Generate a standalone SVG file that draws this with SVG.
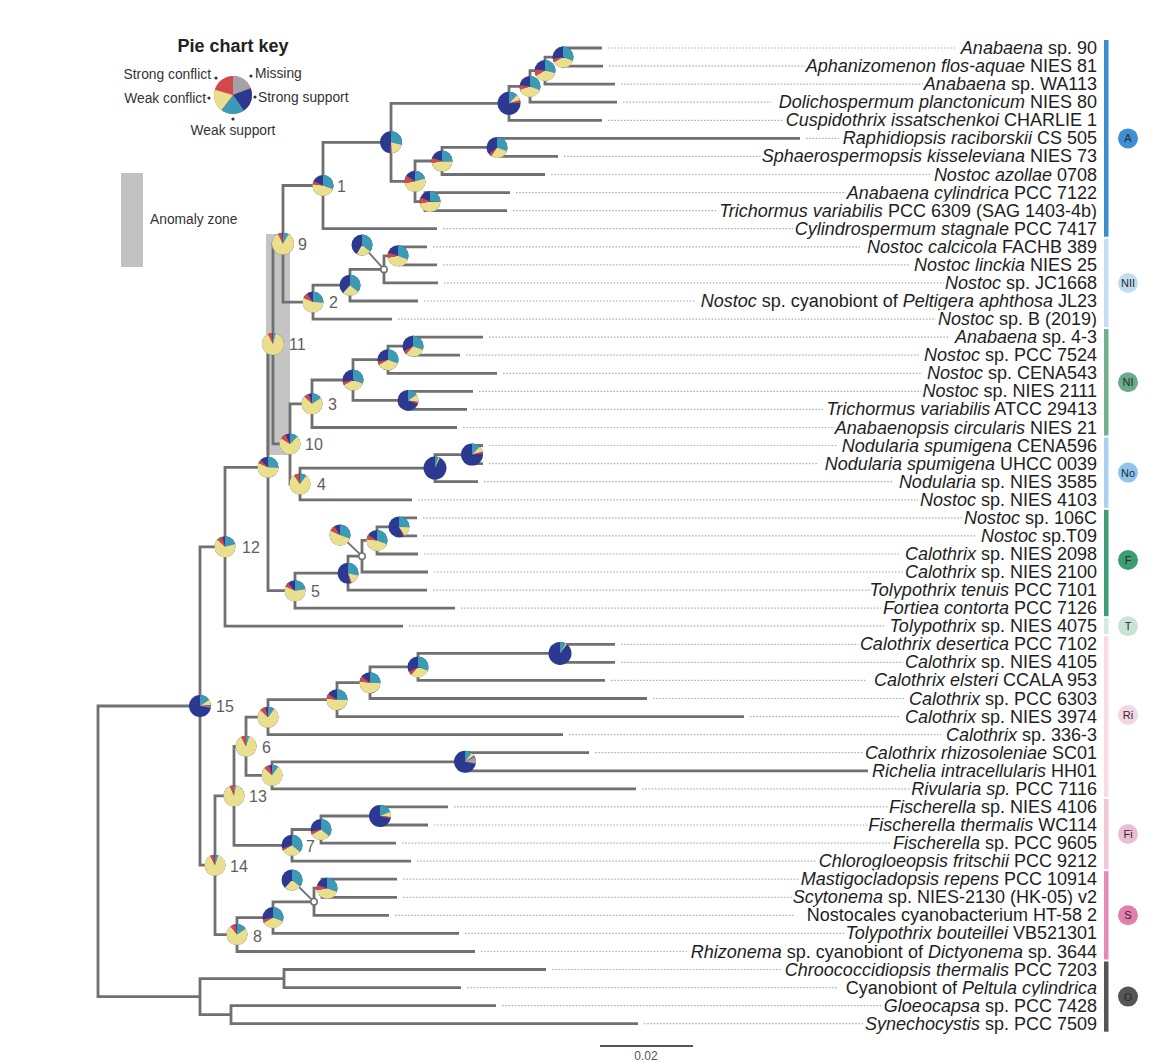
<svg xmlns="http://www.w3.org/2000/svg" width="1174" height="1062" viewBox="0 0 1174 1062">
<style>
text{font-family:"Liberation Sans",Arial,sans-serif}
.br{fill:none;stroke:#707070;stroke-width:2.8;stroke-linejoin:miter}
.ld{fill:none;stroke:#707070;stroke-width:1.8}
.dt{fill:none;stroke:#b0b0b0;stroke-width:1.2;stroke-dasharray:1.6 1.6}
.lf{font-size:18px;fill:#1e1e1e;text-anchor:end;stroke:#fff;stroke-width:5;stroke-linejoin:round;paint-order:stroke}
.i{font-style:italic}
.nl{font-size:16px;fill:#5e5e5e}
.p circle{fill:none;stroke-width:31.831}
.p .b{fill:#2c3990;stroke:none}
.t{stroke:#3b9ab5}.y{stroke:#eadf8d}.r{stroke:#d6474b}.g{stroke:#a3a3a5}.s{stroke:#2c3990}
.kl{font-size:13.8px;fill:#333}
.sc{fill:#fff;stroke:#707070;stroke-width:1.5}
.cl{font-size:11px;fill:#2a2a2a;text-anchor:middle}
</style>

<!-- key -->
<g id="key">
<text x="233" y="52" font-size="18" font-weight="bold" text-anchor="middle" fill="#222">Pie chart key</text>
<g class="p" transform="translate(233 95) scale(.597) rotate(-90)"><circle class="b" r="31.83" style="fill:#d6474b"/><circle class="g" r="15.915" stroke-dasharray="19 100"/><circle class="s" r="15.915" stroke-dasharray="21 100" stroke-dashoffset="-19"/><circle class="t" r="15.915" stroke-dasharray="20 100" stroke-dashoffset="-40"/><circle class="y" r="15.915" stroke-dasharray="19 100" stroke-dashoffset="-60"/></g>
<g fill="#333"><circle cx="216" cy="78" r="1.6"/><circle cx="251" cy="76" r="1.6"/><circle cx="209" cy="98" r="1.6"/><circle cx="255" cy="97" r="1.6"/><circle cx="233" cy="119" r="1.6"/></g>
<text class="kl" x="211" y="79" text-anchor="end">Strong conflict</text>
<text class="kl" x="255" y="78">Missing</text>
<text class="kl" x="206" y="102.5" text-anchor="end">Weak conflict</text>
<text class="kl" x="258" y="101.5">Strong support</text>
<text class="kl" x="233" y="135" text-anchor="middle">Weak support</text>
<rect x="121" y="173" width="22" height="94" fill="#c2c2c2"/>
<text class="kl" x="150" y="224" font-size="13.5">Anomaly zone</text>
</g>

<rect id="anomaly" x="266" y="234" width="24" height="221" fill="#c4c4c4"/>

<g id="connectors">
<path class="br" d="M602 48H563V66.1H603M563 57.1H545V84.1H615M545 70.6H530V102.2H617M530 86.4H509V120.3H602M800 138.4H497V156.4H558M497 147.4H442V174.5H545M510 192.6H425V210.6H507M442 161H415V201.6H425M509 103.3H391V181.3H415M391 142.3H323V228.7H437M427 246.8H400V264.8H437M400 255.8H384V282.9H438M384 269.4H350V301H418M350 285.2H313V319.1H392M323 185.5H283V302.1H313M483 337.1H413V355.2H460M413 346.2H388V373.3H497M473 391.3H408V409.4H467M388 359.7H353V400.4H408M353 380H312V427.5H457M483 445.5H472V463.6H483M472 454.6H435V481.7H478M435 468.1H300V499.8H412M312 403.8H290V484H300M283 243.8H273V443.9H290M417 517.8H402V535.9H417M402 526.9H377V554H418M377 540.4H362V572H428M362 556.2H348V590.1H427M348 573.2H295V608.2H455M273 343.9H268V590.7H295M268 467.3H225V626.2H403M615 644.3H560V662.4H615M560 653.4H418V680.4H605M418 666.9H370V698.5H647M370 682.7H337V716.6H744M337 699.7H268V734.7H563M589 752.7H465V770.8H868M465 761.8H272V788.9H636M268 717.2H246V775.3H272M448 806.9H380V825H428M380 816H321V843.1H396M321 829.5H292V861.1H411M246 746.3H234V845.3H292M397 879.2H322V897.3H397M322 888.2H314V915.3H389M314 901.8H273V933.4H459M273 917.6H237V951.5H475M234 795.8H215V934.6H237M225 546.8H200V865.2H215M546 969.5H284V987.6H461M496 1005.7H231V1023.7H638M284 978.6H200V1014.7H231M200 706H98V996.6H200"/>
<path class="ld" d="M362 245L384 269.4M340 535L362 556.2M292 880L314 901.8"/>
<path class="dt" d="M608 48H955M609 66.1H805M621 84.1H923M623 102.2H771M608 120.3H786M806 138.4H839M564 156.4H763M551 174.5H930M516 192.6H846M513 210.6H717M443 228.7H796M433 246.8H860M443 264.8H909M444 282.9H945M424 301H696M398 319.1H936M489 337.1H950M466 355.2H920M503 373.3H922M479 391.3H925M473 409.4H823M463 427.5H835M489 445.5H837M489 463.6H817M484 481.7H893M418 499.8H918M423 517.8H962M423 535.9H976M424 554H900M434 572H904M433 590.1H872M461 608.2H881M409 626.2H885M621 644.3H861M621 662.4H904M611 680.4H867M653 698.5H904M750 716.6H900M569 734.7H941M595 752.7H865M642 788.9H915M454 806.9H888M434 825H869M402 843.1H890M417 861.1H817M403 879.2H801M403 897.3H794M395 915.3H794M465 933.4H846M481 951.5H687M552 969.5H782M467 987.6H837M502 1005.7H883M644 1023.7H863"/>
<circle class="sc" cx="384" cy="269.4" r="3.2"/>
<circle class="sc" cx="362" cy="556.2" r="3.2"/>
<circle class="sc" cx="314" cy="901.8" r="3.2"/>
</g>

<g id="pies">
<g id="nA12" class="p" transform="translate(563 57.1) scale(.33) rotate(-90)"><circle class="b" r="31.83"/><circle class="t" r="15.915" stroke-dasharray="30 100"/><circle class="y" r="15.915" stroke-dasharray="35 100" stroke-dashoffset="-30"/><circle class="r" r="15.915" stroke-dasharray="5 100" stroke-dashoffset="-65"/></g>
<g id="nA13" class="p" transform="translate(545 70.6) scale(.33) rotate(-90)"><circle class="b" r="31.83"/><circle class="t" r="15.915" stroke-dasharray="28 100"/><circle class="y" r="15.915" stroke-dasharray="37 100" stroke-dashoffset="-28"/><circle class="r" r="15.915" stroke-dasharray="10 100" stroke-dashoffset="-65"/></g>
<g id="nA14" class="p" transform="translate(530 86.4) scale(.33) rotate(-90)"><circle class="b" r="31.83"/><circle class="t" r="15.915" stroke-dasharray="30 100"/><circle class="y" r="15.915" stroke-dasharray="38 100" stroke-dashoffset="-30"/><circle class="r" r="15.915" stroke-dasharray="7 100" stroke-dashoffset="-68"/></g>
<g id="nA15" class="p" transform="translate(509 103.3) scale(.361) rotate(-90)"><circle class="b" r="31.83"/><circle class="t" r="15.915" stroke-dasharray="12 100"/><circle class="y" r="15.915" stroke-dasharray="8 100" stroke-dashoffset="-12"/><circle class="r" r="15.915" stroke-dasharray="4 100" stroke-dashoffset="-20"/></g>
<g id="nA67" class="p" transform="translate(497 147.4) scale(.33) rotate(-90)"><circle class="b" r="31.83"/><circle class="t" r="15.915" stroke-dasharray="30 100"/><circle class="y" r="15.915" stroke-dasharray="28 100" stroke-dashoffset="-30"/><circle class="r" r="15.915" stroke-dasharray="4 100" stroke-dashoffset="-58"/></g>
<g id="nA68" class="p" transform="translate(442 161) scale(.33) rotate(-90)"><circle class="b" r="31.83"/><circle class="t" r="15.915" stroke-dasharray="25 100"/><circle class="y" r="15.915" stroke-dasharray="45 100" stroke-dashoffset="-25"/><circle class="r" r="15.915" stroke-dasharray="8 100" stroke-dashoffset="-70"/></g>
<g id="nA610" class="p" transform="translate(415 181.3) scale(.33) rotate(-90)"><circle class="b" r="31.83"/><circle class="t" r="15.915" stroke-dasharray="20 100"/><circle class="y" r="15.915" stroke-dasharray="50 100" stroke-dashoffset="-20"/><circle class="r" r="15.915" stroke-dasharray="12 100" stroke-dashoffset="-70"/></g>
<g id="nA910" class="p" transform="translate(430 201.6) scale(.33) rotate(-90)"><circle class="b" r="31.83"/><circle class="t" r="15.915" stroke-dasharray="25 100"/><circle class="y" r="15.915" stroke-dasharray="45 100" stroke-dashoffset="-25"/><circle class="r" r="15.915" stroke-dasharray="10 100" stroke-dashoffset="-70"/></g>
<g id="nAu" class="p" transform="translate(391 142.3) scale(.346) rotate(-90)"><circle class="b" r="31.83"/><circle class="t" r="15.915" stroke-dasharray="28 100"/><circle class="y" r="15.915" stroke-dasharray="20 100" stroke-dashoffset="-28"/><circle class="r" r="15.915" stroke-dasharray="2 100" stroke-dashoffset="-48"/></g>
<g id="n1" class="p" transform="translate(323 185.5) scale(.33) rotate(-90)"><circle class="b" r="31.83"/><circle class="t" r="15.915" stroke-dasharray="30 100"/><circle class="y" r="15.915" stroke-dasharray="45 100" stroke-dashoffset="-30"/><circle class="r" r="15.915" stroke-dasharray="5 100" stroke-dashoffset="-75"/></g>
<g id="n9" class="p" transform="translate(283 243.8) scale(.346) rotate(-90)"><circle class="b" r="31.83"/><circle class="t" r="15.915" stroke-dasharray="8 100"/><circle class="y" r="15.915" stroke-dasharray="82 100" stroke-dashoffset="-8"/><circle class="r" r="15.915" stroke-dasharray="6 100" stroke-dashoffset="-90"/></g>
<g id="n2" class="p" transform="translate(313 302.1) scale(.33) rotate(-90)"><circle class="b" r="31.83"/><circle class="t" r="15.915" stroke-dasharray="25 100"/><circle class="y" r="15.915" stroke-dasharray="55 100" stroke-dashoffset="-25"/><circle class="r" r="15.915" stroke-dasharray="8 100" stroke-dashoffset="-80"/></g>
<g id="n2a" class="p" transform="translate(350 285.2) scale(.33) rotate(-90)"><circle class="b" r="31.83"/><circle class="t" r="15.915" stroke-dasharray="35 100"/><circle class="y" r="15.915" stroke-dasharray="25 100" stroke-dashoffset="-35"/></g>
<g id="n2b" class="p" transform="translate(362 245) scale(.33) rotate(-90)"><circle class="b" r="31.83"/><circle class="t" r="15.915" stroke-dasharray="35 100"/><circle class="y" r="15.915" stroke-dasharray="22 100" stroke-dashoffset="-35"/></g>
<g id="n2c" class="p" transform="translate(398 255.8) scale(.33) rotate(-90)"><circle class="b" r="31.83"/><circle class="t" r="15.915" stroke-dasharray="30 100"/><circle class="y" r="15.915" stroke-dasharray="40 100" stroke-dashoffset="-30"/><circle class="r" r="15.915" stroke-dasharray="8 100" stroke-dashoffset="-70"/></g>
<g id="n11" class="p" transform="translate(273 343.9) scale(.346) rotate(-90)"><circle class="b" r="31.83"/><circle class="t" r="15.915" stroke-dasharray="4 100"/><circle class="y" r="15.915" stroke-dasharray="86 100" stroke-dashoffset="-4"/><circle class="r" r="15.915" stroke-dasharray="6 100" stroke-dashoffset="-90"/></g>
<g id="n3" class="p" transform="translate(312 403.8) scale(.33) rotate(-90)"><circle class="b" r="31.83"/><circle class="t" r="15.915" stroke-dasharray="15 100"/><circle class="y" r="15.915" stroke-dasharray="70 100" stroke-dashoffset="-15"/><circle class="r" r="15.915" stroke-dasharray="7 100" stroke-dashoffset="-85"/></g>
<g id="n3a" class="p" transform="translate(353 380) scale(.33) rotate(-90)"><circle class="b" r="31.83"/><circle class="t" r="15.915" stroke-dasharray="30 100"/><circle class="y" r="15.915" stroke-dasharray="35 100" stroke-dashoffset="-30"/><circle class="r" r="15.915" stroke-dasharray="5 100" stroke-dashoffset="-65"/></g>
<g id="n3b" class="p" transform="translate(388 359.7) scale(.33) rotate(-90)"><circle class="b" r="31.83"/><circle class="t" r="15.915" stroke-dasharray="30 100"/><circle class="y" r="15.915" stroke-dasharray="35 100" stroke-dashoffset="-30"/><circle class="r" r="15.915" stroke-dasharray="5 100" stroke-dashoffset="-65"/></g>
<g id="n3d" class="p" transform="translate(413 346.2) scale(.33) rotate(-90)"><circle class="b" r="31.83"/><circle class="t" r="15.915" stroke-dasharray="30 100"/><circle class="y" r="15.915" stroke-dasharray="30 100" stroke-dashoffset="-30"/><circle class="r" r="15.915" stroke-dasharray="5 100" stroke-dashoffset="-60"/></g>
<g id="n3c" class="p" transform="translate(408 400.4) scale(.33) rotate(-90)"><circle class="b" r="31.83"/><circle class="t" r="15.915" stroke-dasharray="15 100"/><circle class="y" r="15.915" stroke-dasharray="12 100" stroke-dashoffset="-15"/><circle class="r" r="15.915" stroke-dasharray="3 100" stroke-dashoffset="-27"/></g>
<g id="n10" class="p" transform="translate(290 443.9) scale(.33) rotate(-90)"><circle class="b" r="31.83"/><circle class="t" r="15.915" stroke-dasharray="12 100"/><circle class="y" r="15.915" stroke-dasharray="70 100" stroke-dashoffset="-12"/><circle class="r" r="15.915" stroke-dasharray="8 100" stroke-dashoffset="-82"/></g>
<g id="n4" class="p" transform="translate(300 484) scale(.33) rotate(-90)"><circle class="b" r="31.83"/><circle class="t" r="15.915" stroke-dasharray="10 100"/><circle class="y" r="15.915" stroke-dasharray="78 100" stroke-dashoffset="-10"/><circle class="r" r="15.915" stroke-dasharray="8 100" stroke-dashoffset="-88"/></g>
<g id="n4a" class="p" transform="translate(435 468.1) scale(.361) rotate(-90)"><circle class="b" r="31.83"/><circle class="t" r="15.915" stroke-dasharray="5 100"/><circle class="y" r="15.915" stroke-dasharray="2 100" stroke-dashoffset="-5"/></g>
<g id="n4b" class="p" transform="translate(472 454.6) scale(.346) rotate(-90)"><circle class="b" r="31.83"/><circle class="t" r="15.915" stroke-dasharray="12 100"/><circle class="y" r="15.915" stroke-dasharray="8 100" stroke-dashoffset="-12"/><circle class="r" r="15.915" stroke-dasharray="3 100" stroke-dashoffset="-20"/></g>
<g id="nU" class="p" transform="translate(268 467.3) scale(.33) rotate(-90)"><circle class="b" r="31.83"/><circle class="t" r="15.915" stroke-dasharray="25 100"/><circle class="y" r="15.915" stroke-dasharray="55 100" stroke-dashoffset="-25"/><circle class="r" r="15.915" stroke-dasharray="5 100" stroke-dashoffset="-80"/></g>
<g id="n12" class="p" transform="translate(225 546.8) scale(.33) rotate(-90)"><circle class="b" r="31.83"/><circle class="t" r="15.915" stroke-dasharray="20 100"/><circle class="y" r="15.915" stroke-dasharray="65 100" stroke-dashoffset="-20"/><circle class="r" r="15.915" stroke-dasharray="8 100" stroke-dashoffset="-85"/></g>
<g id="n5" class="p" transform="translate(295 590.7) scale(.33) rotate(-90)"><circle class="b" r="31.83"/><circle class="t" r="15.915" stroke-dasharray="22 100"/><circle class="y" r="15.915" stroke-dasharray="58 100" stroke-dashoffset="-22"/><circle class="r" r="15.915" stroke-dasharray="6 100" stroke-dashoffset="-80"/></g>
<g id="n5a" class="p" transform="translate(348 573.2) scale(.33) rotate(-90)"><circle class="b" r="31.83"/><circle class="t" r="15.915" stroke-dasharray="28 100"/><circle class="y" r="15.915" stroke-dasharray="15 100" stroke-dashoffset="-28"/><circle class="r" r="15.915" stroke-dasharray="2 100" stroke-dashoffset="-43"/></g>
<g id="n5b" class="p" transform="translate(340 535) scale(.33) rotate(-90)"><circle class="b" r="31.83"/><circle class="t" r="15.915" stroke-dasharray="30 100"/><circle class="y" r="15.915" stroke-dasharray="50 100" stroke-dashoffset="-30"/><circle class="r" r="15.915" stroke-dasharray="8 100" stroke-dashoffset="-80"/></g>
<g id="n5c" class="p" transform="translate(377 540.4) scale(.33) rotate(-90)"><circle class="b" r="31.83"/><circle class="t" r="15.915" stroke-dasharray="30 100"/><circle class="y" r="15.915" stroke-dasharray="45 100" stroke-dashoffset="-30"/><circle class="r" r="15.915" stroke-dasharray="7 100" stroke-dashoffset="-75"/></g>
<g id="n5d" class="p" transform="translate(399 526.9) scale(.33) rotate(-90)"><circle class="b" r="31.83"/><circle class="t" r="15.915" stroke-dasharray="25 100"/><circle class="y" r="15.915" stroke-dasharray="15 100" stroke-dashoffset="-25"/><circle class="r" r="15.915" stroke-dasharray="2 100" stroke-dashoffset="-40"/></g>
<g id="n15" class="p" transform="translate(200 706) scale(.346) rotate(-90)"><circle class="b" r="31.83"/><circle class="t" r="15.915" stroke-dasharray="15 100"/><circle class="y" r="15.915" stroke-dasharray="8 100" stroke-dashoffset="-15"/><circle class="r" r="15.915" stroke-dasharray="2 100" stroke-dashoffset="-23"/><circle class="g" r="15.915" stroke-dasharray="2 100" stroke-dashoffset="-25"/></g>
<g id="n6" class="p" transform="translate(246 746.3) scale(.33) rotate(-90)"><circle class="b" r="31.83"/><circle class="t" r="15.915" stroke-dasharray="5 100"/><circle class="y" r="15.915" stroke-dasharray="85 100" stroke-dashoffset="-5"/><circle class="r" r="15.915" stroke-dasharray="7 100" stroke-dashoffset="-90"/></g>
<g id="n6a" class="p" transform="translate(268 717.2) scale(.33) rotate(-90)"><circle class="b" r="31.83"/><circle class="t" r="15.915" stroke-dasharray="10 100"/><circle class="y" r="15.915" stroke-dasharray="75 100" stroke-dashoffset="-10"/><circle class="r" r="15.915" stroke-dasharray="8 100" stroke-dashoffset="-85"/></g>
<g id="n6c" class="p" transform="translate(337 699.7) scale(.33) rotate(-90)"><circle class="b" r="31.83"/><circle class="t" r="15.915" stroke-dasharray="25 100"/><circle class="y" r="15.915" stroke-dasharray="50 100" stroke-dashoffset="-25"/><circle class="r" r="15.915" stroke-dasharray="7 100" stroke-dashoffset="-75"/></g>
<g id="n6d" class="p" transform="translate(370 682.7) scale(.33) rotate(-90)"><circle class="b" r="31.83"/><circle class="t" r="15.915" stroke-dasharray="25 100"/><circle class="y" r="15.915" stroke-dasharray="50 100" stroke-dashoffset="-25"/><circle class="r" r="15.915" stroke-dasharray="8 100" stroke-dashoffset="-75"/></g>
<g id="n6e" class="p" transform="translate(418 666.9) scale(.33) rotate(-90)"><circle class="b" r="31.83"/><circle class="t" r="15.915" stroke-dasharray="30 100"/><circle class="y" r="15.915" stroke-dasharray="30 100" stroke-dashoffset="-30"/><circle class="r" r="15.915" stroke-dasharray="5 100" stroke-dashoffset="-60"/></g>
<g id="n6f" class="p" transform="translate(560 653.4) scale(.361) rotate(-90)"><circle class="b" r="31.83"/><circle class="t" r="15.915" stroke-dasharray="8 100"/><circle class="y" r="15.915" stroke-dasharray="2 100" stroke-dashoffset="-8"/></g>
<g id="n6b" class="p" transform="translate(272 775.3) scale(.33) rotate(-90)"><circle class="b" r="31.83"/><circle class="t" r="15.915" stroke-dasharray="10 100"/><circle class="y" r="15.915" stroke-dasharray="75 100" stroke-dashoffset="-10"/><circle class="r" r="15.915" stroke-dasharray="8 100" stroke-dashoffset="-85"/></g>
<g id="n6g" class="p" transform="translate(465 761.8) scale(.346) rotate(-90)"><circle class="b" r="31.83"/><circle class="t" r="15.915" stroke-dasharray="10 100"/><circle class="y" r="15.915" stroke-dasharray="5 100" stroke-dashoffset="-10"/><circle class="r" r="15.915" stroke-dasharray="2 100" stroke-dashoffset="-15"/><circle class="g" r="15.915" stroke-dasharray="10 100" stroke-dashoffset="-17"/></g>
<g id="n13" class="p" transform="translate(234 795.8) scale(.33) rotate(-90)"><circle class="b" r="31.83"/><circle class="t" r="15.915" stroke-dasharray="3 100"/><circle class="y" r="15.915" stroke-dasharray="88 100" stroke-dashoffset="-3"/><circle class="r" r="15.915" stroke-dasharray="7 100" stroke-dashoffset="-91"/></g>
<g id="n14" class="p" transform="translate(215 865.2) scale(.33) rotate(-90)"><circle class="b" r="31.83"/><circle class="t" r="15.915" stroke-dasharray="5 100"/><circle class="y" r="15.915" stroke-dasharray="85 100" stroke-dashoffset="-5"/><circle class="r" r="15.915" stroke-dasharray="6 100" stroke-dashoffset="-90"/></g>
<g id="n7" class="p" transform="translate(292 845.3) scale(.33) rotate(-90)"><circle class="b" r="31.83"/><circle class="t" r="15.915" stroke-dasharray="35 100"/><circle class="y" r="15.915" stroke-dasharray="30 100" stroke-dashoffset="-35"/><circle class="r" r="15.915" stroke-dasharray="3 100" stroke-dashoffset="-65"/></g>
<g id="n7a" class="p" transform="translate(321 829.5) scale(.33) rotate(-90)"><circle class="b" r="31.83"/><circle class="t" r="15.915" stroke-dasharray="35 100"/><circle class="y" r="15.915" stroke-dasharray="30 100" stroke-dashoffset="-35"/><circle class="r" r="15.915" stroke-dasharray="5 100" stroke-dashoffset="-65"/></g>
<g id="n7b" class="p" transform="translate(380 816) scale(.346) rotate(-90)"><circle class="b" r="31.83"/><circle class="t" r="15.915" stroke-dasharray="18 100"/><circle class="y" r="15.915" stroke-dasharray="8 100" stroke-dashoffset="-18"/><circle class="r" r="15.915" stroke-dasharray="2 100" stroke-dashoffset="-26"/></g>
<g id="n8" class="p" transform="translate(237 934.6) scale(.33) rotate(-90)"><circle class="b" r="31.83"/><circle class="t" r="15.915" stroke-dasharray="15 100"/><circle class="y" r="15.915" stroke-dasharray="72 100" stroke-dashoffset="-15"/><circle class="r" r="15.915" stroke-dasharray="8 100" stroke-dashoffset="-87"/></g>
<g id="n8a" class="p" transform="translate(273 917.6) scale(.33) rotate(-90)"><circle class="b" r="31.83"/><circle class="t" r="15.915" stroke-dasharray="30 100"/><circle class="y" r="15.915" stroke-dasharray="35 100" stroke-dashoffset="-30"/><circle class="r" r="15.915" stroke-dasharray="5 100" stroke-dashoffset="-65"/></g>
<g id="n8b" class="p" transform="translate(292 880) scale(.33) rotate(-90)"><circle class="b" r="31.83"/><circle class="t" r="15.915" stroke-dasharray="35 100"/><circle class="y" r="15.915" stroke-dasharray="25 100" stroke-dashoffset="-35"/></g>
<g id="n8c" class="p" transform="translate(327 888.2) scale(.33) rotate(-90)"><circle class="b" r="31.83"/><circle class="t" r="15.915" stroke-dasharray="30 100"/><circle class="y" r="15.915" stroke-dasharray="40 100" stroke-dashoffset="-30"/><circle class="r" r="15.915" stroke-dasharray="8 100" stroke-dashoffset="-70"/></g>
</g>

<g id="node-labels" class="nl">
<text x="337" y="191.5">1</text>
<text x="298" y="249.8">9</text>
<text x="329" y="308">2</text>
<text x="289" y="349.9">11</text>
<text x="328" y="409.8">3</text>
<text x="305" y="449.9">10</text>
<text x="317" y="490">4</text>
<text x="242" y="552.8">12</text>
<text x="311" y="596.7">5</text>
<text x="216" y="712">15</text>
<text x="262" y="753">6</text>
<text x="249" y="802">13</text>
<text x="306" y="852">7</text>
<text x="230" y="871.5">14</text>
<text x="253" y="942">8</text>
</g>

<g id="leaves" class="lf">
<g id="l1"><text x="1097" y="54"><tspan class="i">Anabaena</tspan> sp. 90</text></g>
<g id="l2"><text x="1097" y="72.1"><tspan class="i">Aphanizomenon flos-aquae</tspan> NIES 81</text></g>
<g id="l3"><text x="1097" y="90.1"><tspan class="i">Anabaena</tspan> sp. WA113</text></g>
<g id="l4"><text x="1097" y="108.2"><tspan class="i">Dolichospermum planctonicum</tspan> NIES 80</text></g>
<g id="l5"><text x="1097" y="126.3"><tspan class="i">Cuspidothrix issatschenkoi</tspan> CHARLIE 1</text></g>
<g id="l6"><text x="1097" y="144.4"><tspan class="i">Raphidiopsis raciborskii</tspan> CS 505</text></g>
<g id="l7"><text x="1097" y="162.4"><tspan class="i">Sphaerospermopsis kisseleviana</tspan> NIES 73</text></g>
<g id="l8"><text x="1097" y="180.5"><tspan class="i">Nostoc azollae</tspan> 0708</text></g>
<g id="l9"><text x="1097" y="198.6"><tspan class="i">Anabaena cylindrica</tspan> PCC 7122</text></g>
<g id="l10"><text x="1097" y="216.6"><tspan class="i">Trichormus variabilis</tspan> PCC 6309 (SAG 1403-4b)</text></g>
<g id="l11"><text x="1097" y="234.7"><tspan class="i">Cylindrospermum stagnale</tspan> PCC 7417</text></g>
<g id="l12"><text x="1097" y="252.8"><tspan class="i">Nostoc calcicola</tspan> FACHB 389</text></g>
<g id="l13"><text x="1097" y="270.8"><tspan class="i">Nostoc linckia</tspan> NIES 25</text></g>
<g id="l14"><text x="1097" y="288.9"><tspan class="i">Nostoc</tspan> sp. JC1668</text></g>
<g id="l15"><text x="1097" y="307"><tspan class="i">Nostoc</tspan> sp. cyanobiont of <tspan class="i">Peltigera aphthosa</tspan> JL23</text></g>
<g id="l16"><text x="1097" y="325.1"><tspan class="i">Nostoc</tspan> sp. B (2019)</text></g>
<g id="l17"><text x="1097" y="343.1"><tspan class="i">Anabaena</tspan> sp. 4-3</text></g>
<g id="l18"><text x="1097" y="361.2"><tspan class="i">Nostoc</tspan> sp. PCC 7524</text></g>
<g id="l19"><text x="1097" y="379.3"><tspan class="i">Nostoc</tspan> sp. CENA543</text></g>
<g id="l20"><text x="1097" y="397.3"><tspan class="i">Nostoc</tspan> sp. NIES 2111</text></g>
<g id="l21"><text x="1097" y="415.4"><tspan class="i">Trichormus variabilis</tspan> ATCC 29413</text></g>
<g id="l22"><text x="1097" y="433.5"><tspan class="i">Anabaenopsis circularis</tspan> NIES 21</text></g>
<g id="l23"><text x="1097" y="451.5"><tspan class="i">Nodularia spumigena</tspan> CENA596</text></g>
<g id="l24"><text x="1097" y="469.6"><tspan class="i">Nodularia spumigena</tspan> UHCC 0039</text></g>
<g id="l25"><text x="1097" y="487.7"><tspan class="i">Nodularia</tspan> sp. NIES 3585</text></g>
<g id="l26"><text x="1097" y="505.8"><tspan class="i">Nostoc</tspan> sp. NIES 4103</text></g>
<g id="l27"><text x="1097" y="523.8"><tspan class="i">Nostoc</tspan> sp. 106C</text></g>
<g id="l28"><text x="1097" y="541.9"><tspan class="i">Nostoc</tspan> sp.T09</text></g>
<g id="l29"><text x="1097" y="560"><tspan class="i">Calothrix</tspan> sp. NIES 2098</text></g>
<g id="l30"><text x="1097" y="578"><tspan class="i">Calothrix</tspan> sp. NIES 2100</text></g>
<g id="l31"><text x="1097" y="596.1"><tspan class="i">Tolypothrix tenuis</tspan> PCC 7101</text></g>
<g id="l32"><text x="1097" y="614.2"><tspan class="i">Fortiea contorta</tspan> PCC 7126</text></g>
<g id="l33"><text x="1097" y="632.2"><tspan class="i">Tolypothrix</tspan> sp. NIES 4075</text></g>
<g id="l34"><text x="1097" y="650.3"><tspan class="i">Calothrix desertica</tspan> PCC 7102</text></g>
<g id="l35"><text x="1097" y="668.4"><tspan class="i">Calothrix</tspan> sp. NIES 4105</text></g>
<g id="l36"><text x="1097" y="686.4"><tspan class="i">Calothrix elsteri</tspan> CCALA 953</text></g>
<g id="l37"><text x="1097" y="704.5"><tspan class="i">Calothrix</tspan> sp. PCC 6303</text></g>
<g id="l38"><text x="1097" y="722.6"><tspan class="i">Calothrix</tspan> sp. NIES 3974</text></g>
<g id="l39"><text x="1097" y="740.7"><tspan class="i">Calothrix</tspan> sp. 336-3</text></g>
<g id="l40"><text x="1097" y="758.7"><tspan class="i">Calothrix rhizosoleniae</tspan> SC01</text></g>
<g id="l41"><text x="1097" y="776.8"><tspan class="i">Richelia intracellularis</tspan> HH01</text></g>
<g id="l42"><text x="1097" y="794.9"><tspan class="i">Rivularia sp.</tspan> PCC 7116</text></g>
<g id="l43"><text x="1097" y="812.9"><tspan class="i">Fischerella</tspan> sp. NIES 4106</text></g>
<g id="l44"><text x="1097" y="831"><tspan class="i">Fischerella thermalis</tspan> WC114</text></g>
<g id="l45"><text x="1097" y="849.1"><tspan class="i">Fischerella</tspan> sp. PCC 9605</text></g>
<g id="l46"><text x="1097" y="867.1"><tspan class="i">Chlorogloeopsis fritschii</tspan> PCC 9212</text></g>
<g id="l47"><text x="1097" y="885.2"><tspan class="i">Mastigocladopsis repens</tspan> PCC 10914</text></g>
<g id="l48"><text x="1097" y="903.3"><tspan class="i">Scytonema</tspan> sp. NIES-2130 (HK-05) v2</text></g>
<g id="l49"><text x="1097" y="921.3">Nostocales cyanobacterium HT-58 2</text></g>
<g id="l50"><text x="1097" y="939.4"><tspan class="i">Tolypothrix bouteillei</tspan> VB521301</text></g>
<g id="l51"><text x="1097" y="957.5"><tspan class="i">Rhizonema</tspan> sp. cyanobiont of <tspan class="i">Dictyonema</tspan> sp. 3644</text></g>
<g id="l52"><text x="1097" y="975.5"><tspan class="i">Chroococcidiopsis thermalis</tspan> PCC 7203</text></g>
<g id="l53"><text x="1097" y="993.6">Cyanobiont of <tspan class="i">Peltula cylindrica</tspan></text></g>
<g id="l54"><text x="1097" y="1011.7"><tspan class="i">Gloeocapsa</tspan> sp. PCC 7428</text></g>
<g id="l55"><text x="1097" y="1029.7"><tspan class="i">Synechocystis</tspan> sp. PCC 7509</text></g>
</g>

<g id="clades">
<rect x="1104" y="40" width="4.5" height="196.7" fill="#3b8fd1"/>
<rect x="1104" y="238.8" width="4.5" height="88.3" fill="#c5def3"/>
<rect x="1104" y="329.1" width="4.5" height="106.4" fill="#6fae8f"/>
<rect x="1104" y="437.5" width="4.5" height="70.3" fill="#a9d2f0"/>
<rect x="1104" y="509.8" width="4.5" height="106.4" fill="#3e9e75"/>
<rect x="1104" y="618.2" width="4.5" height="16" fill="#d3eadf"/>
<rect x="1104" y="636.3" width="4.5" height="160.6" fill="#f6dce8"/>
<rect x="1104" y="798.9" width="4.5" height="70.2" fill="#f0c6d9"/>
<rect x="1104" y="871.2" width="4.5" height="88.3" fill="#e58ab5"/>
<rect x="1104" y="961.5" width="4.5" height="70.2" fill="#555"/>
<g id="cA"><circle cx="1128" cy="138.4" r="10" fill="#3d8fd1"/><text class="cl" x="1128" y="142.4">A</text></g>
<g id="cNII"><circle cx="1128" cy="283" r="10" fill="#c0dcf2"/><text class="cl" x="1128" y="287" font-size="10">NII</text></g>
<g id="cNI"><circle cx="1128" cy="382.3" r="10" fill="#6aab8b"/><text class="cl" x="1128" y="386.3" font-size="10">NI</text></g>
<g id="cNo"><circle cx="1128" cy="472.6" r="10" fill="#8fc5ec"/><text class="cl" x="1128" y="476.6" font-size="10">No</text></g>
<g id="cF"><circle cx="1128" cy="560" r="10" fill="#3f9b72"/><text class="cl" x="1128" y="564">F</text></g>
<g id="cT"><circle cx="1128" cy="626.2" r="10" fill="#c8e4d6"/><text class="cl" x="1128" y="630.2">T</text></g>
<g id="cRi"><circle cx="1128" cy="715" r="10" fill="#f4d6e4"/><text class="cl" x="1128" y="719" font-size="10">Ri</text></g>
<g id="cFi"><circle cx="1128" cy="834" r="10" fill="#ebbcd2"/><text class="cl" x="1128" y="838" font-size="10">Fi</text></g>
<g id="cS"><circle cx="1128" cy="915.3" r="10" fill="#e27fae"/><text class="cl" x="1128" y="919.3">S</text></g>
<g id="cO"><circle cx="1128" cy="996.6" r="10" fill="#555"/><text class="cl" x="1128" y="1000.6" fill="#3a3a3a">O</text></g>
</g>

<g id="scale">
<line x1="600" y1="1046" x2="693" y2="1046" stroke="#555" stroke-width="2"/>
<text x="646" y="1060" font-size="12" text-anchor="middle" fill="#555">0.02</text>
</g>
</svg>
